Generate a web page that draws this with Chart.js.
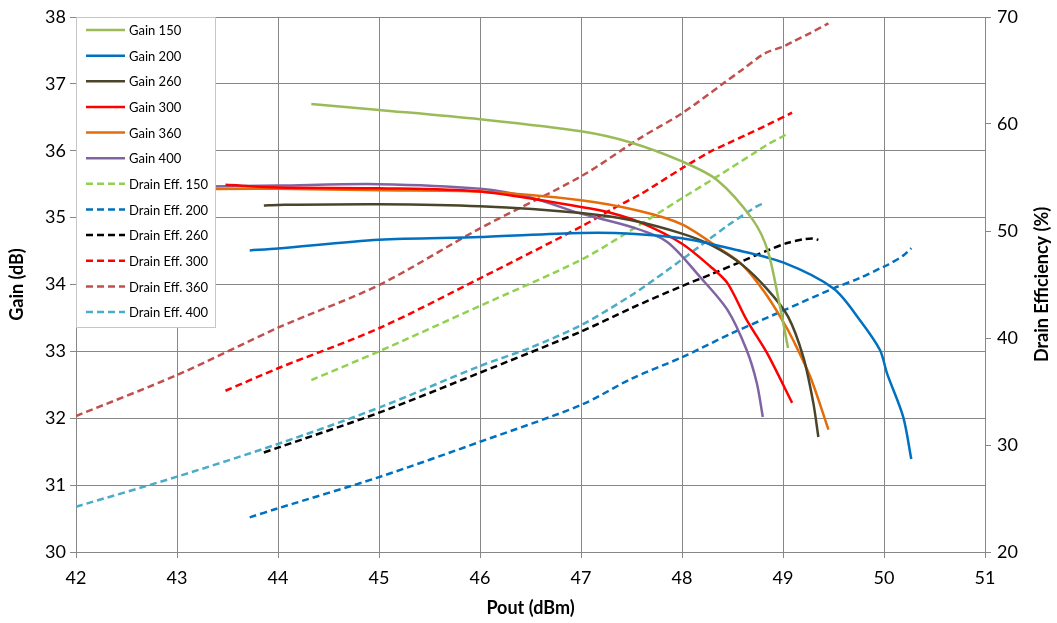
<!DOCTYPE html>
<html>
<head>
<meta charset="utf-8">
<script src="https://cdn.jsdelivr.net/npm/chart.js@4.4.1/dist/chart.umd.min.js"></script>
<style>
  html, body { margin: 0; padding: 0; background: #fff; }
  #wrap { width: 1057px; height: 623px; position: relative; }
</style>
</head>
<body>
<div id="wrap"><canvas id="chart"></canvas></div>
<script>
// Pout (dBm) points per device, with gain (dB) and drain efficiency (%) at the same points
const pout150 = [44.33, 45, 46, 47, 47.5, 48, 48.35, 48.7, 48.85, 48.97, 49.05];
const gain150 = [36.70, 36.61, 36.47, 36.29, 36.12, 35.84, 35.56, 34.97, 34.50, 33.67, 33.05];
const eff150  = [36.07, 38.75, 43.0, 47.3, 50.1, 53.06, 55.1, 57.2, 58.1, 58.7, 59.13];

const pout200 = [43.72, 44, 45, 46, 47, 47.5, 48, 48.5, 49, 49.5, 49.76, 49.96, 50.03, 50.19, 50.27];
const gain200 = [34.51, 34.54, 34.67, 34.71, 34.77, 34.76, 34.69, 34.53, 34.33, 33.94, 33.47, 33.02, 32.67, 32.02, 31.39];
const eff200  = [23.24, 24.08, 27.0, 30.3, 33.74, 36.2, 38.2, 40.47, 42.55, 44.64, 45.6, 46.5, 46.8, 47.7, 48.4];

const pout260 = [43.86, 44, 45, 46, 47, 47.5, 48, 48.3, 48.6, 48.85, 49.05, 49.2, 49.3, 49.35];
const gain260 = [35.18, 35.19, 35.20, 35.17, 35.07, 34.96, 34.76, 34.58, 34.29, 33.92, 33.52, 32.92, 32.23, 31.72];
const eff260  = [29.3, 29.75, 33.02, 36.76, 40.6, 42.8, 44.85, 46.0, 47.2, 48.2, 48.9, 49.22, 49.3, 49.16];

const pout300 = [43.48, 44, 45, 46, 47, 47.3, 47.6, 48, 48.28, 48.45, 48.64, 48.84, 49.09];
const gain300 = [35.49, 35.45, 35.44, 35.39, 35.16, 35.07, 34.92, 34.61, 34.27, 34.02, 33.47, 32.98, 32.23];
const eff300  = [35.07, 37.17, 40.91, 45.58, 50.4, 52.0, 53.5, 55.86, 57.41, 58.17, 59.0, 59.9, 61.06];

const pout360 = [42, 43, 44, 45, 46, 47, 47.58, 48, 48.41, 48.6, 48.82, 49.0, 49.1, 49.27, 49.45];
const gain360 = [35.37, 35.42, 35.43, 35.41, 35.39, 35.26, 35.10, 34.90, 34.50, 34.29, 33.88, 33.45, 33.17, 32.62, 31.83];
const eff360  = [32.71, 36.54, 40.96, 44.95, 50.25, 55.1, 58.66, 61.0, 63.8, 65.1, 66.6, 67.23, 67.7, 68.5, 69.41];

const pout400 = [42, 43, 44, 45, 46, 46.5, 47, 47.5, 47.85, 48.18, 48.45, 48.64, 48.74, 48.8];
const gain400 = [35.43, 35.46, 35.48, 35.50, 35.43, 35.30, 35.06, 34.86, 34.64, 34.11, 33.62, 33.02, 32.53, 32.02];
const eff400  = [24.23, 27.04, 30.1, 33.49, 37.38, 39.1, 41.2, 44.0, 46.3, 48.6, 50.5, 51.7, 52.3, 52.58];

const effTitle = 'Drain Efficiency (%)';

const FONT = "'Lato', 'DejaVu Sans', sans-serif";
const gridColor = '#878787';
const dash = [7, 4];

const pts = (xs, ys) => xs.map((x, i) => ({ x: x, y: ys[i] }));

function gainSet(label, xs, ys, color) {
    return {
        label: label, data: pts(xs, ys), yAxisID: 'y',
        borderColor: color, backgroundColor: color,
        borderWidth: 2.5, pointRadius: 0, showLine: true,
        tension: 0.3
    };
}

function effSet(label, xs, ys, color) {
    return {
        label: label, data: pts(xs, ys), yAxisID: 'y2',
        borderColor: color, backgroundColor: color,
        borderWidth: 2.5, borderDash: dash, pointRadius: 0, showLine: true,
        tension: 0.3
    };
}

const datasets = [
    gainSet('Gain 150', pout150, gain150, '#9BBB59'),
    gainSet('Gain 200', pout200, gain200, '#0070C0'),
    gainSet('Gain 260', pout260, gain260, '#4A452A'),
    gainSet('Gain 300', pout300, gain300, '#FF0000'),
    gainSet('Gain 360', pout360, gain360, '#E46C0A'),
    gainSet('Gain 400', pout400, gain400, '#8064A2'),
    effSet('Drain Eff. 150', pout150, eff150, '#92D050'),
    effSet('Drain Eff. 200', pout200, eff200, '#0070C0'),
    effSet('Drain Eff. 260', pout260, eff260, '#000000'),
    effSet('Drain Eff. 300', pout300, eff300, '#FF0000'),
    effSet('Drain Eff. 360', pout360, eff360, '#C0504D'),
    effSet('Drain Eff. 400', pout400, eff400, '#4BACC6')
];

// legend box inside the plot area (top-left, over the lines) + right title read bottom-to-top
const extras = {
    id: 'extras',
    afterDraw(chart) {
        const ctx = chart.ctx;
        const area = chart.chartArea;
        const x0 = area.left + 0.5, y0 = area.top + 0.5;
        const w = 139, h = 310, rowH = 25.64;
        ctx.save();
        ctx.fillStyle = '#fff';
        ctx.strokeStyle = '#c6c6c6';
        ctx.lineWidth = 1;
        ctx.fillRect(x0, y0, w, h);
        ctx.strokeRect(x0, y0, w, h);
        ctx.font = '13px ' + FONT;
        ctx.textBaseline = 'middle';
        ctx.textAlign = 'left';
        chart.data.datasets.forEach((ds, i) => {
            const cy = area.top + 13 + i * rowH;
            ctx.beginPath();
            ctx.setLineDash(ds.borderDash || []);
            ctx.strokeStyle = ds.borderColor;
            ctx.lineWidth = 2.5;
            ctx.moveTo(area.left + 10, cy);
            ctx.lineTo(area.left + 49, cy);
            ctx.stroke();
            ctx.setLineDash([]);
            ctx.fillStyle = '#000';
            ctx.fillText(ds.label, area.left + 53, cy + 1);
        });

        // right axis title
        const y2 = chart.scales.y2;
        ctx.translate(y2.right - 15, (area.top + area.bottom) / 2);
        ctx.rotate(-Math.PI / 2);
        ctx.font = 'bold 18px ' + FONT;
        ctx.textAlign = 'center';
        ctx.fillText(effTitle, 0, 0);
        ctx.restore();
    }
};

new Chart(document.getElementById('chart'), {
    type: 'scatter',
    data: { datasets: datasets },
    options: {
        responsive: true,
        maintainAspectRatio: false,
        animation: false,
        layout: { padding: { top: 17 } },
        plugins: {
            legend: { display: false },
            tooltip: { enabled: false }
        },
        scales: {
            x: {
                type: 'linear', min: 42, max: 51,
                ticks: { stepSize: 1, color: '#000', font: { family: FONT, size: 18 }, padding: 9 },
                grid: { color: gridColor, tickLength: 6 },
                border: { color: gridColor },
                title: { display: true, text: 'Pout (dBm)', color: '#000', font: { family: FONT, size: 18, weight: 'bold' }, padding: { top: 2, bottom: 4 } },
                afterFit: s => { s.height = 71; }
            },
            y: {
                position: 'left', min: 30, max: 38,
                ticks: { stepSize: 1, color: '#000', font: { family: FONT, size: 18 }, padding: 4 },
                grid: { color: gridColor, tickLength: 6 },
                border: { color: gridColor },
                title: { display: true, text: 'Gain (dB)', color: '#000', font: { family: FONT, size: 18, weight: 'bold' }, padding: { top: 6 } },
                afterFit: s => { s.width = 76; }
            },
            y2: {
                position: 'right', min: 20, max: 70,
                ticks: { stepSize: 10, color: '#000', font: { family: FONT, size: 18 }, padding: 6 },
                grid: { drawOnChartArea: false, color: gridColor, tickLength: 6 },
                border: { color: gridColor },
                afterFit: s => { s.width = 72; }
            }
        }
    },
    plugins: [extras]
});
</script>
</body>
</html>
